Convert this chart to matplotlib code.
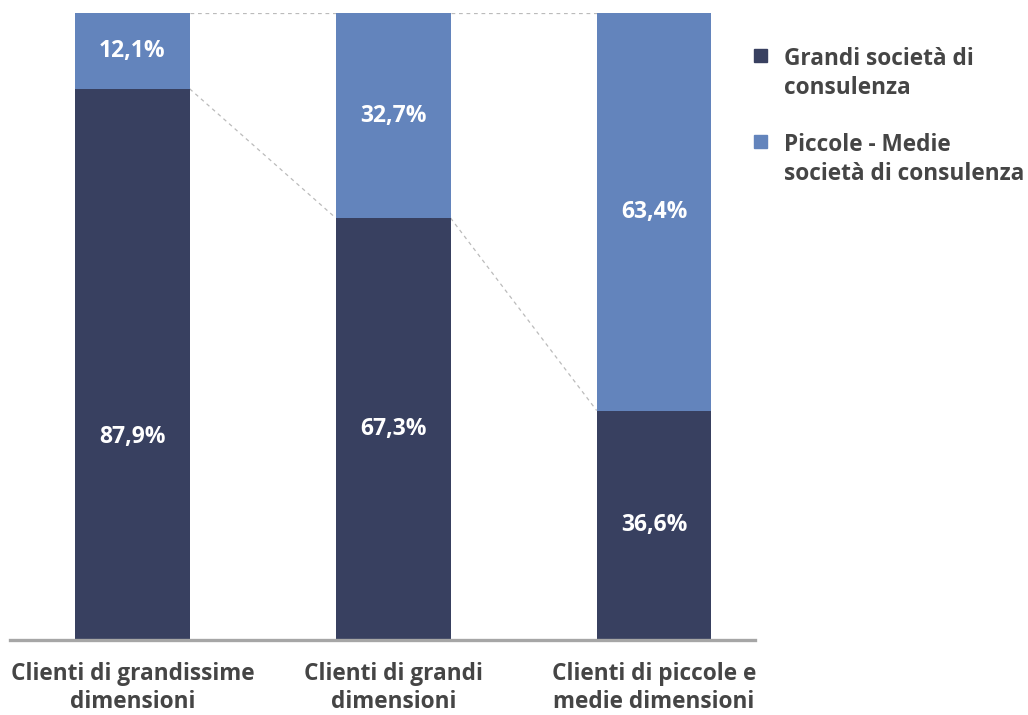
import matplotlib.pyplot as plt
from matplotlib.patches import Rectangle

categories = ["Clienti di grandissime\ndimensioni", "Clienti di grandi\ndimensioni", "Clienti di piccole e\nmedie dimensioni"]
grandi = [87.9, 67.3, 36.6]
piccole = [12.1, 32.7, 63.4]
series_names = ["Grandi società di\nconsulenza", "Piccole - Medie\nsocietà di consulenza"]

dark = "#384060"
light = "#6384BC"
text_col = "#454545"

plt.rcParams['font.family'] = ['Open Sans', 'DejaVu Sans']

fig = plt.figure(figsize=(10.28, 7.15), dpi=100)
ax = fig.add_axes([10 / 1028, 1 - 640 / 715, 745 / 1028, 627 / 715])

x = list(range(len(categories)))
w = 0.44
ax.bar(x, grandi, width=w, color=dark, zorder=2)
ax.bar(x, piccole, width=w, bottom=grandi, color=light, zorder=2)

# dashed connectors between bars
for i in range(len(x) - 1):
    ax.plot([x[i] + w / 2, x[i + 1] - w / 2], [grandi[i], grandi[i + 1]],
            ls=(0, (3, 3)), color="#BBBBBB", lw=0.9, zorder=1)
    ax.plot([x[i] + w / 2, x[i + 1] - w / 2], [100, 100],
            ls=(0, (3, 3)), color="#BBBBBB", lw=0.9, zorder=1)

# first dark label sits lower than centre in the original
dark_label_y = [32.4, grandi[1] / 2, grandi[2] / 2]
for i in x:
    ax.text(i, dark_label_y[i], f"{grandi[i]:.1f}%".replace(".", ","), ha="center", va="center",
            color="white", fontsize=16.5, fontweight="bold")
    ax.text(i, grandi[i] + piccole[i] / 2, f"{piccole[i]:.1f}%".replace(".", ","), ha="center", va="center",
            color="white", fontsize=16.5, fontweight="bold")

ax.set_xlim(-0.469, 2.387)
ax.set_ylim(0, 100)
ax.set_yticks([])
ax.set_xticks(x)
ax.set_xticklabels(categories, fontsize=16.3, fontweight="bold", color=text_col, linespacing=1.2)
ax.tick_params(axis="x", length=0, pad=16)
for s in ["top", "left", "right"]:
    ax.spines[s].set_visible(False)
ax.spines["bottom"].set_color("#A6A6A6")
ax.spines["bottom"].set_linewidth(2.4)

# legend
for name, col, ypx in zip(series_names, [dark, light], [55, 141]):
    fig.patches.append(Rectangle((754 / 1028, 1 - (ypx + 7) / 715), 13 / 1028, 13 / 715,
                                 transform=fig.transFigure, color=col))
    fig.text(784 / 1028, 1 - (ypx - 8) / 715, name, ha="left", va="top", fontsize=16.3,
             fontweight="bold", color=text_col, linespacing=1.3)

fig.savefig("out.png", dpi=100)
